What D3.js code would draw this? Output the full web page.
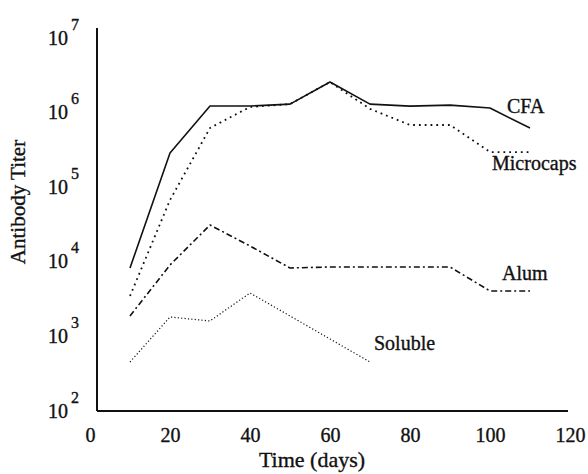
<!DOCTYPE html>
<html>
<head>
<meta charset="utf-8">
<script src="https://cdn.jsdelivr.net/npm/d3@7"></script>
<style>
  html, body { margin: 0; padding: 0; background: #fff; }
  svg { display: block; }
  text { font-family: "Liberation Serif", "Times New Roman", serif; fill: #111; stroke: #111; stroke-width: 0.35px; }
</style>
</head>
<body>
<svg id="chart" width="588" height="474"></svg>
<script>
// ---- data ----
const days = [10, 20, 30, 40, 50, 60, 70, 80, 90, 100, 110];
const cfa = [8260, 287000, 1225000, 1225000, 1300000, 2570000, 1300000, 1220000, 1260000, 1150000, 622000];
const microcaps = [3480, 67300, 622000, 1190000, 1300000, 2570000, 1120000, 682000, 682000, 296000, 296000];
const alum = [1880, 9060, 31100, 16300, 8260, 8520, 8520, 8520, 8520, 4060, 4060];
const solubleDays = [10, 20, 30, 40, 50, 60, 70];
const soluble = [454, 1820, 1610, 3820, 1880, 923, 454];
const xTicks = [0, 20, 40, 60, 80, 100, 120];
const yTicks = [1e2, 1e3, 1e4, 1e5, 1e6, 1e7];
const yExponents = ["2", "3", "4", "5", "6", "7"];
const seriesNames = ["CFA", "Microcaps", "Alum", "Soluble"];
const xTitle = "Time (days)";
const yTitle = "Antibody Titer";

// ---- scales ----
const svg = d3.select("#chart");
const x = d3.scaleLinear().domain([0, 120]).range([90, 570]);
const y = d3.scaleLog().domain([1e2, 1e7]).range([411, 38]);
const axisX0 = 97;          // y-axis line position
const axisXEnd = x(119.5);

// ---- axes ----
const gx = svg.append("g").attr("transform", `translate(0,${y(1e2)})`)
  .call(d3.axisBottom(x).tickValues(xTicks).tickSize(0).tickFormat(d3.format("d")));
gx.select(".domain").remove();
gx.selectAll("text")
  .attr("y", 31).attr("dy", 0)
  .style("font-size", "20px")
  .style("font-family", "'Liberation Serif', serif");

const gy = svg.append("g").attr("transform", `translate(${axisX0},0)`)
  .call(d3.axisLeft(y).tickValues(yTicks).tickSize(0).tickFormat(() => ""));
gy.select(".domain").remove();
gy.selectAll(".tick text").each(function(d, i) {
  const t = d3.select(this);
  t.text(null)
    .attr("x", -49).attr("dy", 0).attr("y", 6)
    .attr("text-anchor", "start")
    .style("font-size", "20px")
    .style("font-family", "'Liberation Serif', serif");
  t.append("tspan").text("10");
  t.append("tspan").text(yExponents[i]).attr("dx", 3).attr("dy", -15).style("font-size", "16px");
});

// axis lines
svg.append("line")
  .attr("x1", axisX0).attr("x2", axisX0)
  .attr("y1", y(1e2)).attr("y2", y(1e7) - 10)
  .attr("stroke", "#111").attr("stroke-width", 2);
svg.append("line")
  .attr("x1", axisX0).attr("x2", axisXEnd)
  .attr("y1", y(1e2)).attr("y2", y(1e2))
  .attr("stroke", "#111").attr("stroke-width", 2);

// ---- lines ----
const line = d3.line().x(d => x(d[0])).y(d => y(d[1]));
const series = [
  { xs: days, vs: cfa, dash: null, w: 1.6 },
  { xs: days, vs: microcaps, dash: "1.8,4", w: 1.8 },
  { xs: days, vs: alum, dash: "6,3,2,3", w: 1.6 },
  { xs: solubleDays, vs: soluble, dash: "1.2,2.2", w: 1.2 }
];
series.forEach(s => {
  svg.append("path")
    .datum(s.xs.map((d, i) => [d, s.vs[i]]))
    .attr("d", line)
    .attr("fill", "none")
    .attr("stroke", "#111")
    .attr("stroke-width", s.w)
    .attr("stroke-dasharray", s.dash)
    .attr("stroke-linejoin", "round");
});

// ---- series labels ----
const labelPos = [
  { x: 507, y: 113 },
  { x: 492, y: 170 },
  { x: 502, y: 280 },
  { x: 374, y: 350 }
];
seriesNames.forEach((n, i) => {
  svg.append("text").text(n)
    .attr("x", labelPos[i].x).attr("y", labelPos[i].y)
    .style("font-size", "20px");
});

// ---- titles ----
svg.append("text").text(xTitle)
  .attr("x", 312).attr("y", 467)
  .attr("text-anchor", "middle")
  .style("font-size", "22px");
svg.append("text").text(yTitle)
  .attr("transform", "translate(25,202) rotate(-90)")
  .attr("text-anchor", "middle")
  .style("font-size", "21px");
</script>
</body>
</html>
